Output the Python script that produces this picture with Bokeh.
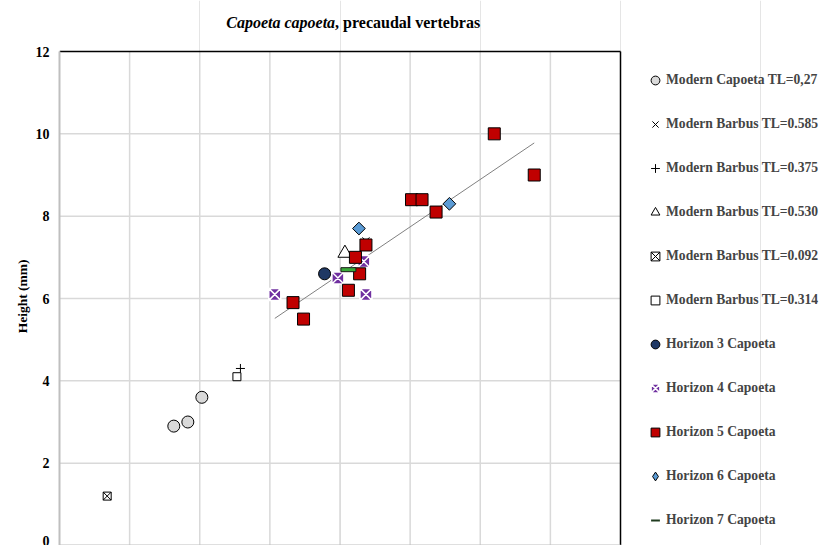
import math
from bokeh.plotting import figure
from bokeh.models import Range1d, FixedTicker, Legend, LegendItem, Label, Title
from bokeh.embed import file_html
from bokeh.resources import INLINE

# ---------------- data ----------------
Y_TICKS = [0, 2, 4, 6, 8, 10, 12]
X_GRID = [1, 2, 3, 4, 5, 6, 7]
X_MAX = 8
Y_MAX = 12

MODERN_CAPOETA_X = [1.63, 1.83, 2.03]
MODERN_CAPOETA_Y = [2.9, 3.0, 3.6]
BARBUS_0585_X = [4.37]
BARBUS_0585_Y = [7.4]
BARBUS_0375_X = [2.58]
BARBUS_0375_Y = [4.3]
BARBUS_0530_X = [4.07]
BARBUS_0530_Y = [7.1]
BARBUS_0092_X = [0.68]
BARBUS_0092_Y = [1.2]
BARBUS_0314_X = [2.53]
BARBUS_0314_Y = [4.1]
H3_X = [3.78]
H3_Y = [6.6]
H4_X = [3.07, 3.97, 4.34, 4.37]
H4_Y = [6.1, 6.5, 6.9, 6.1]
H5_X = [3.33, 3.48, 4.12, 4.22, 4.28, 4.37, 5.02, 5.17, 5.37, 6.20, 6.77]
H5_Y = [5.9, 5.5, 6.2, 7.0, 6.6, 7.3, 8.4, 8.4, 8.1, 10.0, 9.0]
H6_X = [4.27, 5.56]
H6_Y = [7.7, 8.3]
H7_X = [4.12]
H7_Y = [6.7]

TREND_SLOPE = 1.152
TREND_INTERCEPT = 1.98

SERIF = "Liberation Serif"

# plot-area geometry (pixels): plot area 561 x 494, canvas extends to hold title/legend
PA_W, PA_H = 561, 494
FRAME_W, FRAME_H = 760, 545
x_end = X_MAX * FRAME_W / PA_W
y_end = Y_MAX * FRAME_H / PA_H

p = figure(frame_width=FRAME_W, frame_height=FRAME_H,
           min_border_left=59, min_border_top=0, min_border_bottom=0, min_border_right=0,
           x_range=Range1d(0, x_end), y_range=Range1d(0, y_end),
           x_axis_location=None,
           output_backend="svg", toolbar_location=None)
p.background_fill_color = "white"
p.border_fill_color = "white"
p.outline_line_color = None
p.ygrid.visible = False

# grid lines limited to the plot area
inner_y = [t for t in Y_TICKS if 0 < t < Y_MAX]
p.segment(x0=X_GRID, y0=[0] * len(X_GRID), x1=X_GRID, y1=[Y_MAX] * len(X_GRID),
          line_color="#d9d9d9", line_width=1.5)
p.segment(x0=[0] * len(inner_y), y0=inner_y, x1=[X_MAX] * len(inner_y), y1=inner_y,
          line_color="#d9d9d9", line_width=1.5)

# y axis
ya = p.yaxis[0]
ya.ticker = FixedTicker(ticks=Y_TICKS)
ya.bounds = (0, Y_MAX)
ya.axis_line_color = "#bfbfbf"
ya.axis_line_width = 2
ya.major_tick_in = 0
ya.major_tick_out = 0
ya.minor_tick_line_color = None
ya.major_label_text_font = SERIF
ya.major_label_text_font_style = "bold"
ya.major_label_text_font_size = "14px"
ya.major_label_text_color = "black"
ya.major_label_standoff = 10

# y axis title, centred on the plot area (not the whole frame)
p.add_layout(Title(text="Height (mm)", align="right", offset=259, standoff=6,
                   text_font=SERIF, text_font_style="bold", text_font_size="13.5px",
                   text_color="black"), "left")

# plot-area border: black top/right, grey bottom
p.line([0, X_MAX], [Y_MAX, Y_MAX], line_color="black", line_width=1.5)
p.line([X_MAX, X_MAX], [0, Y_MAX], line_color="black", line_width=1.5)
p.line([0, X_MAX], [0, 0], line_color="#bfbfbf", line_width=2)

# trend line (fossil series range)
fx = H3_X + H4_X + H5_X + H6_X + H7_X
tx = [min(fx), max(fx)]
ty = [TREND_SLOPE * v + TREND_INTERCEPT for v in tx]
p.line(tx, ty, line_color="#808080", line_width=1)

r_mc = p.scatter(MODERN_CAPOETA_X, MODERN_CAPOETA_Y, marker="circle", size=12,
                 fill_color="#d9d9d9", line_color="black", line_width=1)
r_b585 = p.scatter(BARBUS_0585_X, BARBUS_0585_Y, marker="x", size=10,
                   line_color="black", line_width=1)
r_b375 = p.scatter(BARBUS_0375_X, BARBUS_0375_Y, marker="cross", size=9,
                   line_color="black", line_width=1)
r_b530 = p.scatter(BARBUS_0530_X, BARBUS_0530_Y, marker="triangle", size=14,
                   fill_color="white", line_color="black", line_width=1)
r_b092 = p.scatter(BARBUS_0092_X, BARBUS_0092_Y, marker="square_x", size=8,
                   fill_color="white", line_color="black", line_width=1)
r_b314 = p.scatter(BARBUS_0314_X, BARBUS_0314_Y, marker="square", size=8,
                   fill_color="white", line_color="black", line_width=1)
r_h3 = p.scatter(H3_X, H3_Y, marker="circle", size=12,
                 fill_color="#1f3864", line_color="black", line_width=1)
r_h4 = p.scatter(H4_X, H4_Y, marker="square_x", size=12,
                 fill_color="#7030a0", line_color="white", line_width=1.5)
r_h5 = p.scatter(H5_X, H5_Y, marker="square", size=12,
                 fill_color="#c00000", line_color="black", line_width=1)
p.scatter(H6_X, H6_Y, marker="square", size=9, angle=math.pi / 4,
          fill_color="#5b9bd5", line_color="black", line_width=1)
r_h6 = p.scatter(H6_X, H6_Y, marker="diamond", size=0,
                 fill_color="#5b9bd5", line_color="black", line_width=1)
p.rect(H7_X, H7_Y, width=15, height=4, width_units="screen", height_units="screen",
       fill_color="#3aab3a", line_color="#1a1a1a", line_width=1)
r_h7 = p.scatter(H7_X, H7_Y, marker="dash", size=0, line_color="#1f3a1f", line_width=2)

legend = Legend(items=[
    LegendItem(label="Modern Capoeta TL=0,27", renderers=[r_mc]),
    LegendItem(label="Modern Barbus TL=0.585", renderers=[r_b585]),
    LegendItem(label="Modern Barbus TL=0.375", renderers=[r_b375]),
    LegendItem(label="Modern Barbus TL=0.530", renderers=[r_b530]),
    LegendItem(label="Modern Barbus TL=0.092", renderers=[r_b092]),
    LegendItem(label="Modern Barbus TL=0.314", renderers=[r_b314]),
    LegendItem(label="Horizon 3 Capoeta", renderers=[r_h3]),
    LegendItem(label="Horizon 4 Capoeta", renderers=[r_h4]),
    LegendItem(label="Horizon 5 Capoeta", renderers=[r_h5]),
    LegendItem(label="Horizon 6 Capoeta", renderers=[r_h6]),
    LegendItem(label="Horizon 7 Capoeta", renderers=[r_h7]),
], location=(585, 13), glyph_width=22, glyph_height=24, spacing=20,
   label_standoff=0, padding=0, margin=0, border_line_color=None,
   background_fill_alpha=0, label_text_font=SERIF, label_text_font_style="bold",
   label_text_font_size="13.6px", label_height=20)
p.add_layout(legend, "center")

# title in two styles
p.add_layout(Label(x=3.93, y=Y_MAX, y_offset=29, text="Capoeta capoeta", text_align="right",
                   text_baseline="middle", text_font=SERIF, text_font_style="bold italic",
                   text_font_size="16px", text_color="black"))
p.add_layout(Label(x=3.93, y=Y_MAX, y_offset=29, text=", precaudal vertebras", text_align="left",
                   text_baseline="middle", text_font=SERIF, text_font_style="bold",
                   text_font_size="16px", text_color="black"))

open("out.html", "w").write(file_html(p, INLINE))
